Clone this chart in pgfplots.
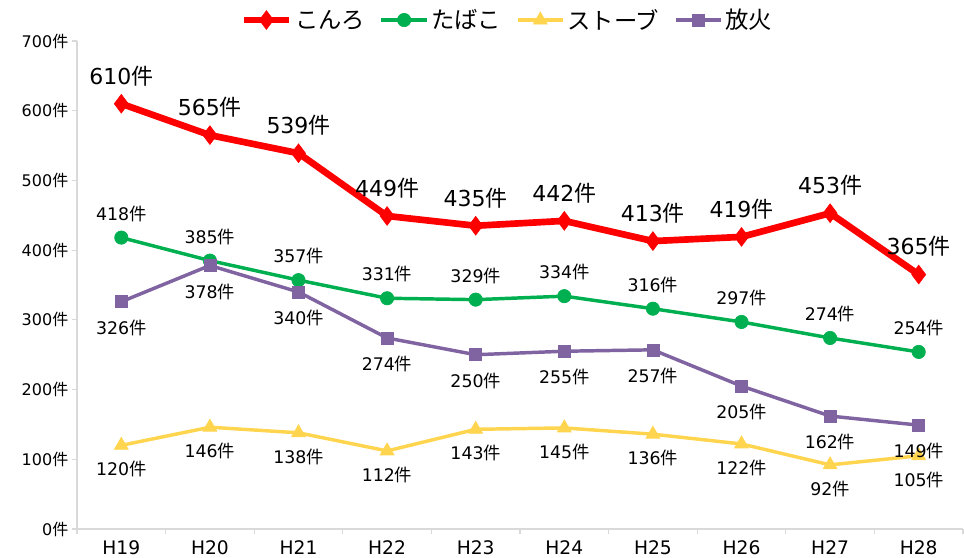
\documentclass[border=0pt]{standalone}
\usepackage{pgfplots}
\pgfplotsset{compat=1.18}
\usepackage{fontspec}
\setmainfont{DejaVu Sans}
\newfontfamily\jp{Noto Sans CJK JP}
\newcommand{\ken}{{\jp 件}}
\definecolor{cred}{HTML}{FF0000}
\definecolor{cgreen}{HTML}{00B050}
\definecolor{cyellow}{HTML}{FFD54F}
\definecolor{cpurple}{HTML}{8064A2}
\definecolor{axgray}{HTML}{D9D9D9}
\begin{document}
\begin{tikzpicture}
\useasboundingbox (-57.75pt,-21pt) rectangle (665.25pt,396.75pt);
\begin{axis}[
  scale only axis,
  width=664.5pt, height=366pt,
  xmin=-0.5, xmax=9.5, ymin=0, ymax=700,
  axis x line*=bottom, axis y line*=left,
  axis line style={draw=axgray, line width=0.8pt},
  xtick={0,...,9},
  xticklabels={H19,H20,H21,H22,H23,H24,H25,H26,H27,H28},
  minor xtick={-0.5,0.5,...,9.5},
  major x tick style={draw=none},
  minor x tick style={draw=axgray, line width=0.8pt},
  ytick={0,100,...,700},
  yticklabels={0\ken,100\ken,200\ken,300\ken,400\ken,500\ken,600\ken,700\ken},
  y tick style={draw=axgray, line width=0.8pt},
  tick align=outside,
  major tick length=4pt, minor tick length=4pt,
  x tick label style={font=\fontsize{14}{14}\selectfont, yshift=-1pt},
  y tick label style={font=\fontsize{12}{12}\selectfont, xshift=1pt},
  nodes near coords={\pgfmathprintnumber[assume math mode=true]{\pgfplotspointmeta}\ken},
  point meta=y,
  legend columns=4,
  legend style={at={(0.486,1.043)}, anchor=center, draw=none, fill=none,
    font=\fontsize{17.5}{17.5}\jp,
    /tikz/every even column/.append style={column sep=9pt}},
  legend cell align=left,
  legend image code/.code={
    \draw[#1,mark repeat=2,mark phase=2] plot coordinates {(0pt,0pt) (17pt,0pt) (34pt,0pt)};},
]
\addplot[color=cred, line width=5pt, mark=diamond*, mark size=7pt,
  mark options={line width=0.5pt},
  every node near coord/.style={anchor=center, yshift=21pt, text=black,
    font=\fontsize{16.5}{16.5}\selectfont}]
  coordinates {(0,610) (1,565) (2,539) (3,449) (4,435) (5,442) (6,413) (7,419) (8,453) (9,365)};
\addlegendentry{こんろ}
\addplot[color=cgreen, line width=2.6pt, mark=*, mark size=5pt,
  mark options={line width=0.5pt},
  every node near coord/.style={anchor=center, yshift=18pt, text=black,
    font=\fontsize{13}{13}\selectfont}]
  coordinates {(0,418) (1,385) (2,357) (3,331) (4,329) (5,334) (6,316) (7,297) (8,274) (9,254)};
\addlegendentry{たばこ}
\addplot[color=cyellow, line width=2.6pt, mark=triangle*, mark size=6pt,
  mark options={line width=0.5pt},
  every node near coord/.style={anchor=center, yshift=-18pt, text=black,
    font=\fontsize{13}{13}\selectfont}]
  coordinates {(0,120) (1,146) (2,138) (3,112) (4,143) (5,145) (6,136) (7,122) (8,92) (9,105)};
\addlegendentry{ストーブ}
\addplot[color=cpurple, line width=2.6pt, mark=square*, mark size=4.5pt,
  mark options={line width=0.5pt},
  every node near coord/.style={anchor=center, yshift=-19.5pt, text=black,
    font=\fontsize{13}{13}\selectfont}]
  coordinates {(0,326) (1,378) (2,340) (3,274) (4,250) (5,255) (6,257) (7,205) (8,162) (9,149)};
\addlegendentry{放火}
\end{axis}
\end{tikzpicture}
\end{document}
